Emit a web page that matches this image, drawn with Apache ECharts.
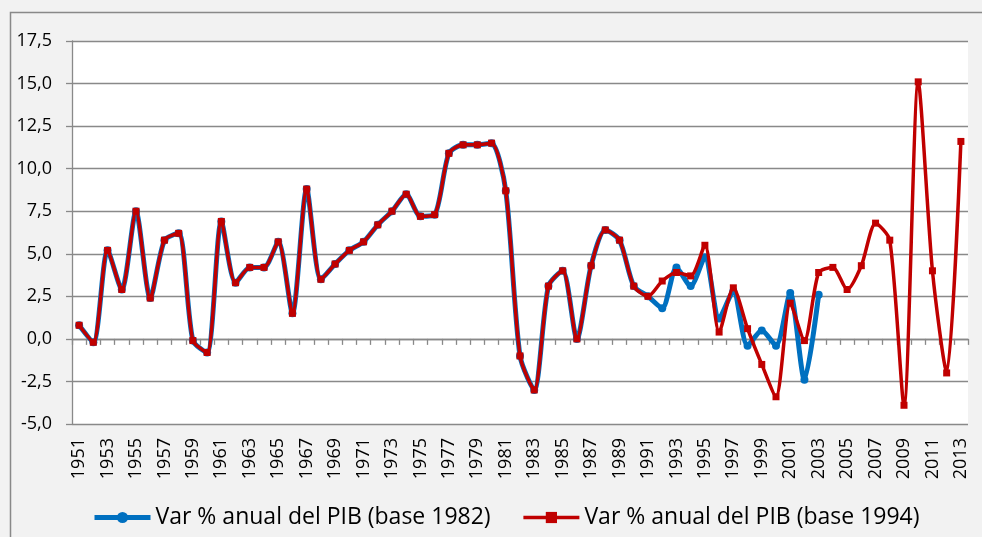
<!DOCTYPE html>
<html>
<head>
<meta charset="utf-8">
<script src="https://cdn.jsdelivr.net/npm/echarts@6/dist/echarts.min.js"></script>
<style>
  html, body { margin: 0; padding: 0; background: #f2f2f2; }
  #chart { width: 982px; height: 537px; }
</style>
</head>
<body>
<div id="chart"></div>
<script>
// Years on the category axis
const years = [
  '1951','1952','1953','1954','1955','1956','1957','1958','1959','1960',
  '1961','1962','1963','1964','1965','1966','1967','1968','1969','1970',
  '1971','1972','1973','1974','1975','1976','1977','1978','1979','1980',
  '1981','1982','1983','1984','1985','1986','1987','1988','1989','1990',
  '1991','1992','1993','1994','1995','1996','1997','1998','1999','2000',
  '2001','2002','2003','2004','2005','2006','2007','2008','2009','2010',
  '2011','2012','2013'
];

// Annual GDP change, 1982 base (1951-2003)
const pibBase1982 = [
  0.8, -0.2, 5.2, 2.9, 7.5, 2.4, 5.8, 6.2, -0.1, -0.8,
  6.9, 3.3, 4.2, 4.2, 5.7, 1.5, 8.8, 3.5, 4.4, 5.2,
  5.7, 6.7, 7.5, 8.5, 7.2, 7.3, 10.9, 11.4, 11.4, 11.5,
  8.7, -1.0, -3.0, 3.1, 4.0, 0.0, 4.3, 6.4, 5.8, 3.1,
  2.5, 1.8, 4.2, 3.1, 4.8, 1.2, 2.8, -0.4, 0.5, -0.4,
  2.7, -2.4, 2.6
];

// Annual GDP change, 1994 base (1951-2013)
const pibBase1994 = [
  0.8, -0.2, 5.2, 2.9, 7.5, 2.4, 5.8, 6.2, -0.1, -0.8,
  6.9, 3.3, 4.2, 4.2, 5.7, 1.5, 8.8, 3.5, 4.4, 5.2,
  5.7, 6.7, 7.5, 8.5, 7.2, 7.3, 10.9, 11.4, 11.4, 11.5,
  8.7, -1.0, -3.0, 3.1, 4.0, 0.0, 4.3, 6.4, 5.8, 3.1,
  2.5, 3.4, 3.9, 3.7, 5.5, 0.4, 3.0, 0.6, -1.5, -3.4,
  2.1, -0.1, 3.9, 4.2, 2.9, 4.3, 6.8, 5.8, -3.9, 15.1,
  4.0, -2.0, 11.6
];

const seriesNames = [
  'Var % anual del PIB (base 1982)',
  'Var % anual del PIB (base 1994)'
];

// Value axis range
const yMin = -5, yMax = 17.5, yStep = 2.5;

const FONT = '"Open Sans", sans-serif';
const AXIS_GRAY = '#898989';
const BLUE = '#0070C0';
const RED = '#C00000';

// Plot rectangle shared by the data grid and the zero-line overlay grid
const plotBox = { left: 72, top: 41, right: 14, bottom: 113 };

const chart = echarts.init(document.getElementById('chart'), null, { renderer: 'canvas' });

chart.setOption({
  backgroundColor: '#f2f2f2',
  animation: false,
  textStyle: { fontFamily: FONT },
  graphic: [{
    type: 'rect',
    z: -10,
    shape: { x: 10.5, y: 12.5, width: 1000, height: 600 },
    style: { fill: 'none', stroke: AXIS_GRAY, lineWidth: 1.5 }
  }],
  grid: [
    Object.assign({ show: true, backgroundColor: '#ffffff', borderWidth: 0 }, plotBox),
    Object.assign({ show: false }, plotBox)
  ],
  legend: {
    left: 87, top: 501,
    itemWidth: 56, itemHeight: 14, itemGap: 31,
    textStyle: { fontFamily: FONT, fontSize: 23, color: '#000' },
    data: [
      { name: seriesNames[0], lineStyle: { width: 5, color: BLUE } },
      { name: seriesNames[1], lineStyle: { width: 3.5, color: RED } }
    ]
  },
  xAxis: [{
    // labelled axis along the bottom of the plot
    type: 'category',
    gridIndex: 0,
    data: years,
    boundaryGap: true,
    axisLine: { show: false, onZero: false },
    axisTick: { show: false },
    axisLabel: {
      interval: 1, rotate: 90, margin: 14,
      fontFamily: FONT, fontSize: 18, color: '#000'
    },
    splitLine: { show: false }
  }, {
    // zero line with downward ticks at the category boundaries
    type: 'category',
    gridIndex: 1,
    data: years,
    position: 'top',
    boundaryGap: true,
    axisLine: { show: true, onZero: true, lineStyle: { color: AXIS_GRAY, width: 1.3 } },
    axisTick: { show: true, inside: true, interval: 0, length: 6, lineStyle: { color: AXIS_GRAY, width: 1.3 } },
    axisLabel: { show: false },
    splitLine: { show: false }
  }],
  yAxis: [{
    type: 'value',
    gridIndex: 0,
    min: yMin, max: yMax, interval: yStep,
    axisLine: { show: true, lineStyle: { color: AXIS_GRAY, width: 1.3 } },
    axisTick: { show: true, length: 6, lineStyle: { color: AXIS_GRAY, width: 1.3 } },
    axisLabel: {
      margin: 20, fontFamily: FONT, fontSize: 18, color: '#000',
      formatter: v => v.toFixed(1).replace('.', ',')
    },
    splitLine: { show: true, lineStyle: { color: AXIS_GRAY, width: 1.3 } }
  }, {
    type: 'value',
    gridIndex: 1,
    min: yMin, max: yMax, interval: yStep,
    axisLine: { show: false, onZero: false },
    axisTick: { show: false },
    axisLabel: { show: false },
    splitLine: { show: false }
  }],
  series: [{
    name: seriesNames[0],
    type: 'line',
    xAxisIndex: 0, yAxisIndex: 0,
    data: pibBase1982,
    smooth: 0.25,
    symbol: 'circle',
    symbolSize: 8,
    lineStyle: { color: BLUE, width: 5 },
    itemStyle: { color: BLUE },
    z: 2
  }, {
    name: seriesNames[1],
    type: 'line',
    xAxisIndex: 0, yAxisIndex: 0,
    data: pibBase1994,
    smooth: 0.25,
    symbol: 'rect',
    symbolSize: 7,
    lineStyle: { color: RED, width: 3.5 },
    itemStyle: { color: RED },
    z: 3
  }]
});
</script>
</body>
</html>
